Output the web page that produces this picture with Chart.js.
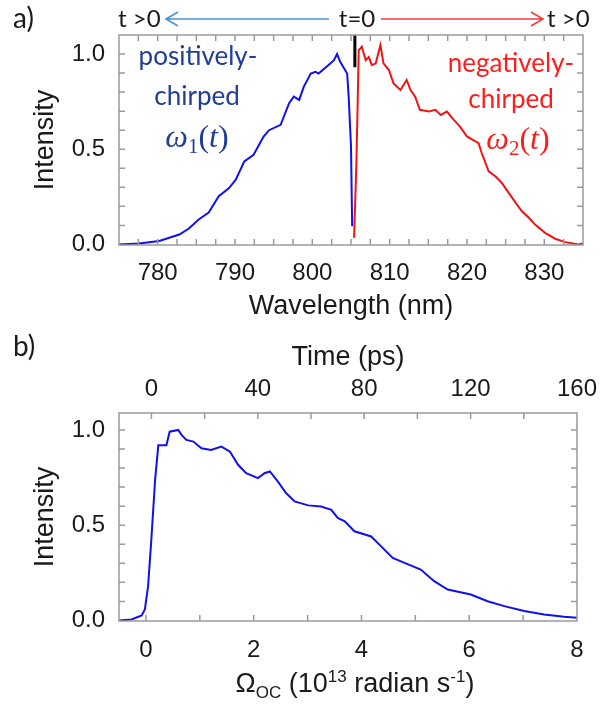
<!DOCTYPE html>
<html>
<head>
<meta charset="utf-8">
<script src="https://cdn.jsdelivr.net/npm/chart.js@4.4.1/dist/chart.umd.min.js"></script>
<style>
body { margin: 0; background: #fff; width: 606px; height: 709px; position: relative; overflow: hidden; }
canvas { position: absolute; left: 0; }
#chartA { top: 0; }
#chartB { top: 330px; }
</style>
</head>
<body>
<canvas id="chartA" width="606" height="330"></canvas>
<canvas id="chartB" width="606" height="379"></canvas>
<script>
// panel a) spectrum, blue part (positively chirped)
const blueWl = [775, 777.6, 780.2, 782.8, 784, 785.3, 786.6, 787.9, 789.2, 790.1, 791.2, 792.4, 793.7, 794.4, 795.9, 797, 797.6, 798.3, 798.9, 799.8, 800.4, 800.8, 802.1, 802.8, 803.2, 803.6, 804.1, 804.5, 804.7, 805.0, 805.15];
const blueI = [0.0, 0.005, 0.018, 0.052, 0.082, 0.131, 0.167, 0.253, 0.295, 0.34, 0.436, 0.471, 0.567, 0.6, 0.628, 0.742, 0.776, 0.759, 0.829, 0.898, 0.907, 0.898, 0.942, 0.968, 1.0, 0.959, 0.925, 0.898, 0.776, 0.515, 0.095];
// red part (negatively chirped)
const redWl = [805.4, 805.7, 806.0, 806.4, 806.9, 807.3, 807.7, 808.2, 808.8, 809.2, 809.9, 810.5, 811.4, 812.2, 812.7, 813.3, 813.9, 815.1, 815.9, 816.6, 817.4, 818.3, 819.1, 820.0, 820.7, 821.5, 821.9, 822.8, 823.7, 824.5, 825.4, 826.3, 827.1, 828.0, 828.8, 830.1, 831.4, 832.7, 834.4, 835];
const redI = [0.035, 0.427, 1.02, 1.038, 0.968, 0.984, 0.942, 0.951, 1.047, 0.951, 0.916, 0.846, 0.811, 0.864, 0.811, 0.776, 0.707, 0.698, 0.707, 0.68, 0.698, 0.654, 0.619, 0.567, 0.55, 0.532, 0.48, 0.384, 0.357, 0.323, 0.271, 0.218, 0.174, 0.14, 0.104, 0.061, 0.03, 0.012, 0.0, 0.005];
// t=0 marker
const markWl = [805.5, 805.5];
const markI = [1.1, 0.93];

// panel b) intensity vs Omega_OC
const omega = [-0.5, -0.27, -0.08, -0.02, 0.04, 0.10, 0.17, 0.23, 0.38, 0.44, 0.60, 0.66, 0.75, 0.88, 1.03, 1.21, 1.40, 1.56, 1.71, 1.86, 2.08, 2.20, 2.30, 2.45, 2.60, 2.76, 3.01, 3.25, 3.44, 3.56, 3.69, 3.87, 4.18, 4.30, 4.58, 4.80, 5.10, 5.35, 5.60, 6.03, 6.34, 6.65, 7.02, 7.39, 7.76, 8.0];
const omegaI = [0, 0.005, 0.026, 0.058, 0.18, 0.424, 0.738, 0.92, 0.92, 0.991, 1.0, 0.974, 0.948, 0.939, 0.904, 0.895, 0.913, 0.886, 0.817, 0.773, 0.747, 0.773, 0.782, 0.729, 0.669, 0.625, 0.604, 0.598, 0.581, 0.538, 0.52, 0.468, 0.441, 0.407, 0.328, 0.302, 0.267, 0.206, 0.162, 0.136, 0.101, 0.075, 0.049, 0.031, 0.019, 0.014];

// tick labels
const wlLabels = [780, 790, 800, 810, 820, 830];
const wlMinor = [777.5, 780, 782.5, 785, 787.5, 790, 792.5, 795, 797.5, 800, 802.5, 805, 807.5, 810, 812.5, 815, 817.5, 820, 822.5, 825, 827.5, 830, 832.5];
const intLabels = [0, 0.5, 1.0];
const intMinor = [0.1, 0.2, 0.3, 0.4, 0.5, 0.6, 0.7, 0.8, 0.9, 1.0];
const omegaLabels = [0, 2, 4, 6, 8];
const omegaMinor = [0, 1, 2, 3, 4, 5, 6, 7];
const timeLabels = [0, 40, 80, 120, 160];
const timeMinor = [0, 20, 40, 60, 80, 100, 120, 140];

const pts = (xs, ys) => xs.map((x, i) => ({ x: x, y: ys[i] }));

const axisFont = 'Liberation Sans';
const txtColor = '#1a1a1a';

// box + inward ticks like the original plot
const frame = {
  id: 'frame',
  afterDatasetsDraw(chart, args, o) {
    const ctx = chart.ctx, a = chart.chartArea;
    const L = 6;
    ctx.save();
    ctx.strokeStyle = '#9a9a9a';
    ctx.lineWidth = 1.5;
    ctx.beginPath();
    o.bottom.forEach(v => {
      const x = chart.scales.x.getPixelForValue(v);
      ctx.moveTo(x, a.bottom); ctx.lineTo(x, a.bottom - L);
    });
    o.top.forEach(v => {
      const x = chart.scales[o.topScale].getPixelForValue(v);
      ctx.moveTo(x, a.top); ctx.lineTo(x, a.top + L);
    });
    o.side.forEach(v => {
      const y = chart.scales.y.getPixelForValue(v);
      ctx.moveTo(a.left, y); ctx.lineTo(a.left + L, y);
      ctx.moveTo(a.right, y); ctx.lineTo(a.right - L, y);
    });
    ctx.stroke();
    ctx.strokeRect(a.left, a.top, a.right - a.left, a.bottom - a.top);
    ctx.restore();
  }
};
Chart.register(frame);

// draw a run of text pieces centred on cx
function drawRuns(ctx, runs, cx, y, color) {
  let w = 0;
  runs.forEach(r => { ctx.font = r.font; r.w = ctx.measureText(r.t).width; w += r.w; });
  let x = cx - w / 2;
  ctx.fillStyle = color;
  ctx.textAlign = 'left';
  ctx.textBaseline = 'alphabetic';
  runs.forEach(r => { ctx.font = r.font; ctx.fillText(r.t, x, y + (r.dy || 0)); x += r.w; });
}

function omegaRuns(sub) {
  return [
    { t: 'ω', font: 'italic 32px "Liberation Serif"' },
    { t: sub, font: '21px "Liberation Serif"', dy: 6 },
    { t: '(', font: '32px "Liberation Serif"' },
    { t: 't', font: 'italic 32px "Liberation Serif"' },
    { t: ')', font: '32px "Liberation Serif"' }
  ];
}

function arrow(ctx, x1, x2, y, color) {
  const d = x2 > x1 ? -12 : 12;
  ctx.save();
  ctx.strokeStyle = color;
  ctx.lineWidth = 1.6;
  ctx.beginPath();
  ctx.moveTo(x1, y); ctx.lineTo(x2, y);
  ctx.moveTo(x2 + d, y - 7); ctx.lineTo(x2, y); ctx.lineTo(x2 + d, y + 7);
  ctx.stroke();
  ctx.restore();
}

const notesA = {
  id: 'notesA',
  afterDraw(chart) {
    const ctx = chart.ctx;
    ctx.save();
    ctx.fillStyle = txtColor;
    ctx.textBaseline = 'alphabetic';
    ctx.textAlign = 'left';
    ctx.font = '28px Lato';
    ctx.fillText('a)', 13, 28);
    ctx.font = '24px Lato';
    ctx.fillText('t >0', 118, 27);
    ctx.textAlign = 'center';
    ctx.fillText('t=0', 357, 27);
    ctx.textAlign = 'left';
    ctx.fillText('t >0', 547, 27);
    arrow(ctx, 329, 166, 19, '#4a92d8');
    arrow(ctx, 381, 543, 19, '#f23b3b');

    const blue = '#213d96', red = '#ff1c1c';
    ctx.textAlign = 'center';
    ctx.fillStyle = blue;
    ctx.font = '26px Lato';
    ctx.fillText('positively-', 198, 65);
    ctx.fillText('chirped', 197, 105);
    drawRuns(ctx, omegaRuns('1'), 197, 147, blue);
    ctx.textAlign = 'center';
    ctx.fillStyle = red;
    ctx.font = '26px Lato';
    ctx.fillText('negatively-', 511, 72);
    ctx.fillText('chirped', 511, 108);
    drawRuns(ctx, omegaRuns('2'), 518, 149, red);
    ctx.restore();
  }
};

const notesB = {
  id: 'notesB',
  afterDraw(chart) {
    const ctx = chart.ctx;
    ctx.save();
    ctx.fillStyle = txtColor;
    ctx.textAlign = 'left';
    ctx.textBaseline = 'alphabetic';
    ctx.font = '28px Lato';
    ctx.fillText('b)', 13, 26);
    const f = '27px "Liberation Sans"', s = '17px "Liberation Sans"';
    drawRuns(ctx, [
      { t: 'Ω', font: f },
      { t: 'OC', font: s, dy: 6 },
      { t: ' (10', font: f },
      { t: '13', font: s, dy: -10 },
      { t: ' radian s', font: f },
      { t: '-1', font: s, dy: -10 },
      { t: ')', font: f }
    ], 355, 362, txtColor);
    ctx.restore();
  }
};

const tickFont = { family: axisFont, size: 24 };
const titleFont = { family: axisFont, size: 27 };

function fixTicks(values) {
  return s => { s.ticks = values.map(v => ({ value: v })); };
}

const lineDs = (data, color, width) => ({
  data: data, borderColor: color, borderWidth: width,
  pointRadius: 0, showLine: true, fill: false, tension: 0
});

new Chart(document.getElementById('chartA'), {
  type: 'scatter',
  data: {
    datasets: [
      lineDs(pts(blueWl, blueI), '#1010f0', 2),
      lineDs(pts(redWl, redI), '#f01414', 2),
      lineDs(pts(markWl, markI), '#000000', 3)
    ]
  },
  options: {
    responsive: false,
    animation: false,
    layout: { padding: { top: 35, right: 23, left: 0, bottom: 0 } },
    plugins: {
      legend: { display: false },
      tooltip: { enabled: false },
      frame: { bottom: wlMinor, top: wlMinor, topScale: 'x', side: intMinor }
    },
    scales: {
      x: {
        type: 'linear', min: 775, max: 835,
        grid: { display: false, drawTicks: false }, border: { display: false },
        afterBuildTicks: fixTicks(wlLabels),
        afterFit: s => { s.height = 85; },
        ticks: { padding: 14, color: txtColor, font: tickFont, maxRotation: 0, autoSkip: false },
        title: { display: true, text: 'Wavelength (nm)', color: txtColor, font: titleFont, padding: { top: 0, bottom: 7 } }
      },
      y: {
        min: -0.003, max: 1.1,
        grid: { display: false, drawTicks: false }, border: { display: false },
        afterBuildTicks: fixTicks(intLabels),
        afterFit: s => { s.width = 119; },
        ticks: { padding: 14, color: txtColor, font: tickFont, callback: v => v.toFixed(1) },
        title: { display: true, text: 'Intensity', color: txtColor, font: titleFont, padding: { top: 29, bottom: 0 } }
      }
    }
  },
  plugins: [notesA]
});

new Chart(document.getElementById('chartB'), {
  type: 'scatter',
  data: {
    datasets: [
      lineDs(pts(omega, omegaI), '#1010f0', 2),
      Object.assign(lineDs([], '#000', 0), { xAxisID: 'x2' })
    ]
  },
  options: {
    responsive: false,
    animation: false,
    layout: { padding: { top: 0, right: 24, left: 0, bottom: 0 } },
    plugins: {
      legend: { display: false },
      tooltip: { enabled: false },
      frame: { bottom: omegaMinor, top: timeMinor, topScale: 'x2', side: intMinor }
    },
    scales: {
      x: {
        type: 'linear', position: 'bottom', min: -0.5, max: 8,
        grid: { display: false, drawTicks: false }, border: { display: false },
        afterBuildTicks: fixTicks(omegaLabels),
        afterFit: s => { s.height = 88; },
        ticks: { padding: 15, color: txtColor, font: tickFont, maxRotation: 0, autoSkip: false }
      },
      x2: {
        type: 'linear', position: 'top', min: -12.2, max: 160,
        grid: { display: false, drawTicks: false }, border: { display: false },
        afterBuildTicks: fixTicks(timeLabels),
        afterFit: s => { s.height = 83; },
        ticks: { padding: 9, color: txtColor, font: tickFont, maxRotation: 0, autoSkip: false },
        title: { display: true, text: 'Time (ps)', color: txtColor, font: titleFont, padding: { top: 11, bottom: 0 } }
      },
      y: {
        min: -0.003, max: 1.089,
        grid: { display: false, drawTicks: false }, border: { display: false },
        afterBuildTicks: fixTicks(intLabels),
        afterFit: s => { s.width = 119; },
        ticks: { padding: 14, color: txtColor, font: tickFont, callback: v => v.toFixed(1) },
        title: { display: true, text: 'Intensity', color: txtColor, font: titleFont, padding: { top: 29, bottom: 0 } }
      }
    }
  },
  plugins: [notesB]
});
</script>
</body>
</html>
